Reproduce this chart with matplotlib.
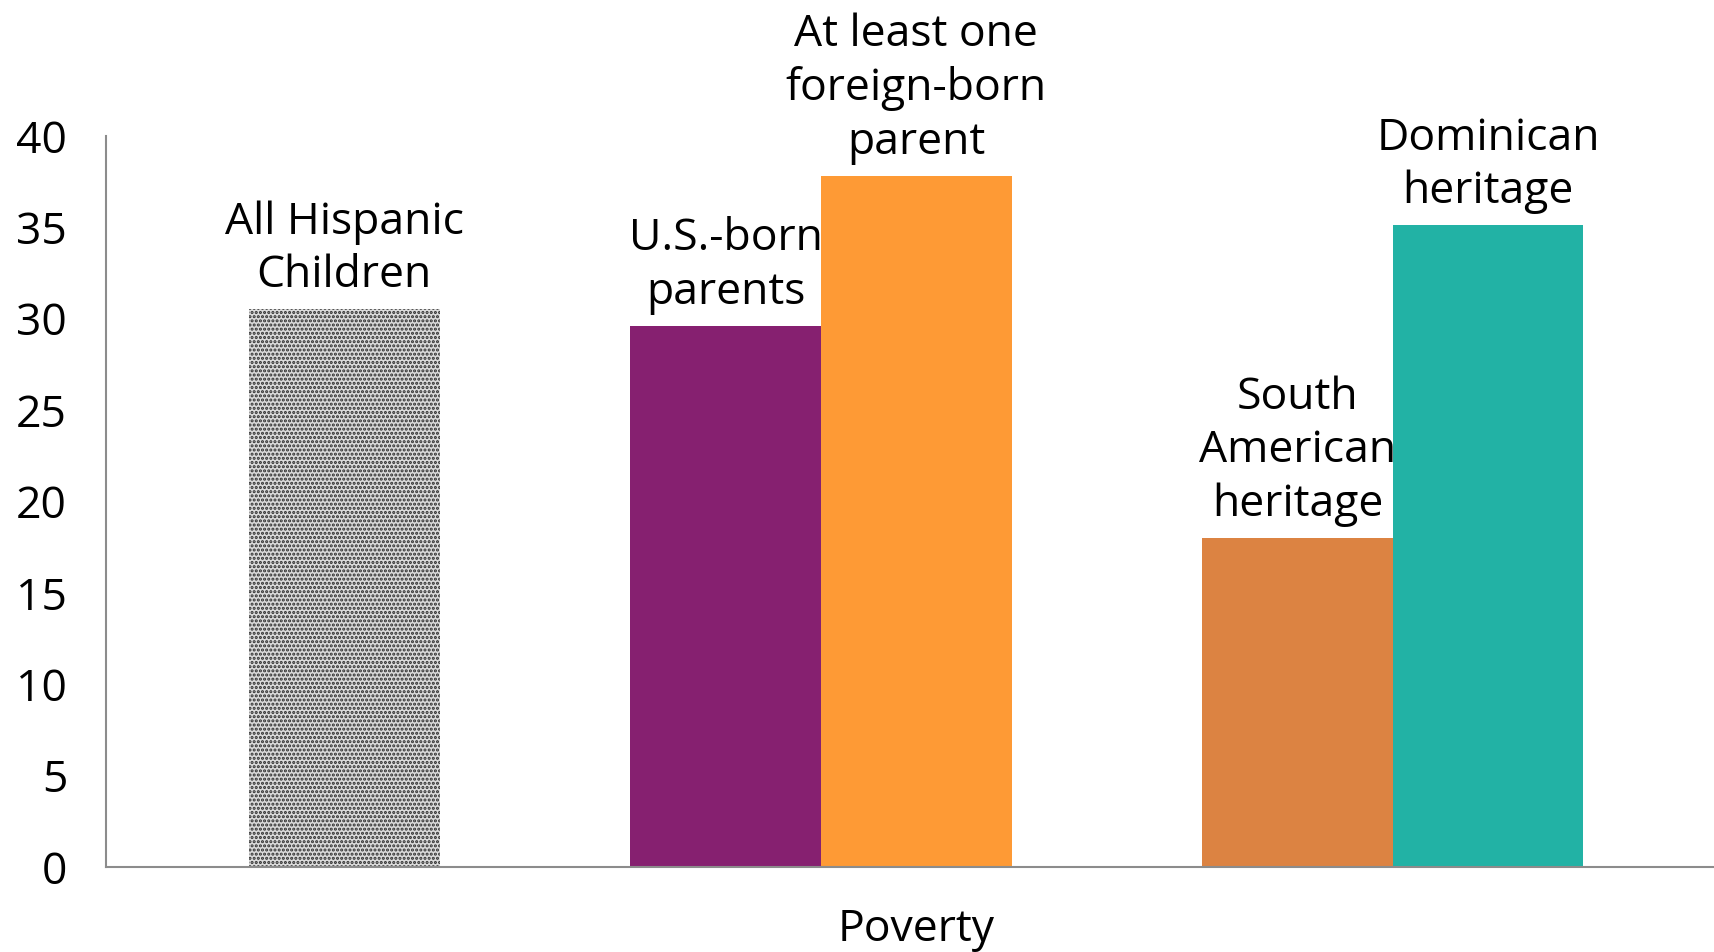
import matplotlib
matplotlib.use("Agg")
import matplotlib.pyplot as plt

plt.rcParams['font.family'] = ['Open Sans', 'DejaVu Sans']
plt.rcParams['hatch.linewidth'] = 1.5

# Child poverty rates (%) by group
labels = ["All Hispanic\nChildren", "U.S.-born\nparents", "At least one\nforeign-born\nparent",
          "South\nAmerican\nheritage", "Dominican\nheritage"]
values = [30.5, 29.6, 37.8, 18.0, 35.1]
slots = [0, 2, 3, 5, 6]
colors = ["white", "#862070", "#FE9A35", "#DC8342", "#22B2A5"]
category = "Poverty"
yticks = [0, 5, 10, 15, 20, 25, 30, 35, 40]

fig = plt.figure(figsize=(17.15, 9.52), dpi=100)
ax = fig.add_axes([0.0618, 0.0893, 0.9382, 0.768])

for i, (s, v, c, lab) in enumerate(zip(slots, values, colors, labels)):
    if i == 0:
        ax.bar(s, v, width=1.0, color="#dadada", edgecolor="#2e2e2e", hatch="....", linewidth=0)
    else:
        ax.bar(s, v, width=1.0, color=c, linewidth=0)
    ax.annotate(lab, xy=(s, v), xytext=(0, 8), textcoords="offset points",
                ha="center", va="bottom", fontsize=32, linespacing=1.27)

ax.set_xlim(-1.25, 7.19)
ax.set_ylim(0, 40)
ax.set_yticks(yticks)
ax.set_yticklabels([str(t) for t in yticks])
ax.set_xticks([3])
ax.set_xticklabels([category])
ax.tick_params(axis="both", length=0, labelsize=32)
ax.tick_params(axis="y", pad=28)
ax.tick_params(axis="x", pad=29)
for side in ("top", "right"):
    ax.spines[side].set_visible(False)
for side in ("left", "bottom"):
    ax.spines[side].set_color("#8c8c8c")
    ax.spines[side].set_linewidth(1.5)

fig.savefig("out.png", dpi=100)
